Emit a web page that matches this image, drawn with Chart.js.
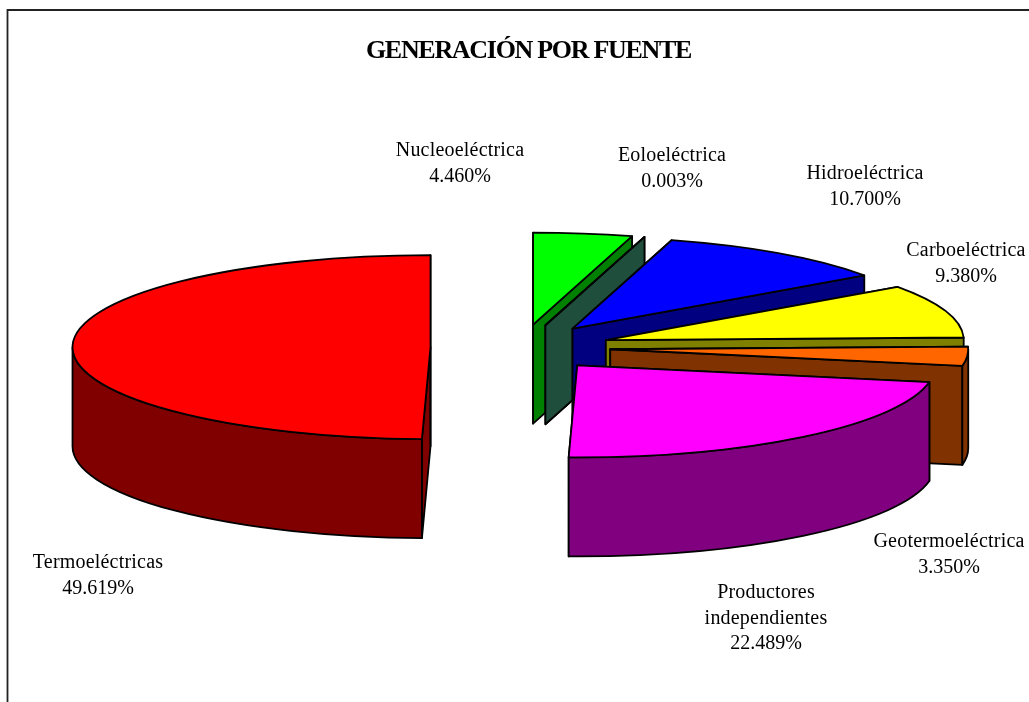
<!DOCTYPE html>
<html><head><meta charset="utf-8">
<style>html,body{margin:0;padding:0;background:#fff}canvas{display:block}</style>
<script src="https://cdn.jsdelivr.net/npm/chart.js@4/dist/chart.umd.min.js"></script>
</head><body>
<canvas id="c" width="1029" height="702"></canvas>
<script>
const categories = ['Nucleoeléctrica','Eoloeléctrica','Hidroeléctrica','Carboeléctrica','Geotermoeléctrica','Productores independientes','Termoeléctricas'];
const values = [4.46,0.003,10.7,9.38,3.35,22.489,49.619];
const topColors = ['#00ff00','#3d9b79','#0000ff','#ffff00','#ff6600','#ff00ff','#ff0000'];
const wallColors = ['#008000','#1f4e3d','#000080','#808000','#803300','#800080','#800000'];
const labelLines = [['Nucleoeléctrica'],['Eoloeléctrica'],['Hidroeléctrica'],['Carboeléctrica'],['Geotermoeléctrica'],['Productores','independientes'],['Termoeléctricas']];
const labelX = [460,672,865,966,949,766,98];
const labelY = [151,156,174,251,542,593,563];
const view = {cx:520.5,cy:347.5,rx:358,ry:92,depth:99,explode:90/358};

const pie3d = {
  id:'pie3d',
  beforeDraw(chart){
    const ctx = chart.ctx;
    ctx.save();
    ctx.strokeStyle='#222';ctx.lineWidth=1.8;
    ctx.beginPath();ctx.moveTo(7.5,702);ctx.lineTo(7.5,10);ctx.lineTo(1029,10);ctx.stroke();
    ctx.restore();
    ctx.letterSpacing='-1.3px';
  },
  beforeDatasetDraw(chart,args){
    const ctx = chart.ctx, meta = args.meta;
    ctx.letterSpacing='0px';
    meta.data.forEach((el,i)=>{
      const a0 = el.startAngle, a1 = el.endAngle, mid = (a0+a1)/2;
      const cx = view.cx + Math.cos(mid)*view.explode*view.rx;
      const cy = view.cy + Math.sin(mid)*view.explode*view.ry;
      const px = a=>cx+view.rx*Math.cos(a), py = a=>cy+view.ry*Math.sin(a);
      ctx.save();
      ctx.lineWidth=1.8;ctx.strokeStyle='#000';ctx.lineJoin='round';ctx.fillStyle=wallColors[i];
      const d=view.depth;
      [a0,a1].forEach(a=>{
        ctx.beginPath();ctx.moveTo(cx,cy);ctx.lineTo(px(a),py(a));ctx.lineTo(px(a),py(a)+d);ctx.lineTo(cx,cy+d);ctx.closePath();ctx.fill();ctx.stroke();
      });
      const s=Math.max(a0,0), e=Math.min(a1,Math.PI);
      if(e>s){
        ctx.beginPath();
        ctx.ellipse(cx,cy,view.rx,view.ry,0,s,e,false);
        ctx.lineTo(px(e),py(e)+d);
        ctx.ellipse(cx,cy+d,view.rx,view.ry,0,e,s,true);
        ctx.closePath();ctx.fill();ctx.stroke();
      }
      // top face: filled by the library's own arc element, flattened
      ctx.save();
      ctx.translate(cx,cy);
      ctx.scale(view.rx/el.outerRadius,view.ry/el.outerRadius);
      ctx.translate(-el.x,-el.y);
      el.draw(ctx);
      ctx.restore();
      ctx.beginPath();ctx.moveTo(cx,cy);
      ctx.ellipse(cx,cy,view.rx,view.ry,0,a0,a1,false);
      ctx.closePath();ctx.stroke();
      ctx.restore();
    });
    return false;
  },
  afterDraw(chart){
    const ctx = chart.ctx;
    ctx.save();
    ctx.fillStyle='#000';ctx.font='20px "Liberation Serif"';ctx.textAlign='center';ctx.textBaseline='middle';
    categories.forEach((c,i)=>{
      const names=labelLines[i];
      names.forEach((t,j)=>{ctx.letterSpacing='0.2px';ctx.fillText(t,labelX[i],labelY[i]+j*25.5);});
      ctx.letterSpacing='0px';
      ctx.fillText(values[i].toFixed(3)+'%',labelX[i],labelY[i]+names.length*25.5);
    });
    ctx.restore();
  }
};

new Chart(document.getElementById('c'),{
  type:'pie',
  data:{labels:categories,datasets:[{data:values,backgroundColor:topColors,borderWidth:0}]},
  options:{
    responsive:false,animation:false,
    layout:{padding:{left:28,top:36}},
    plugins:{
      legend:{display:false},tooltip:{enabled:false},
      title:{display:true,text:'GENERACIÓN POR FUENTE',color:'#000',font:{family:'"Liberation Serif"',size:26,weight:'bold'},padding:0}
    }
  },
  plugins:[pie3d]
});
</script>
</body></html>
